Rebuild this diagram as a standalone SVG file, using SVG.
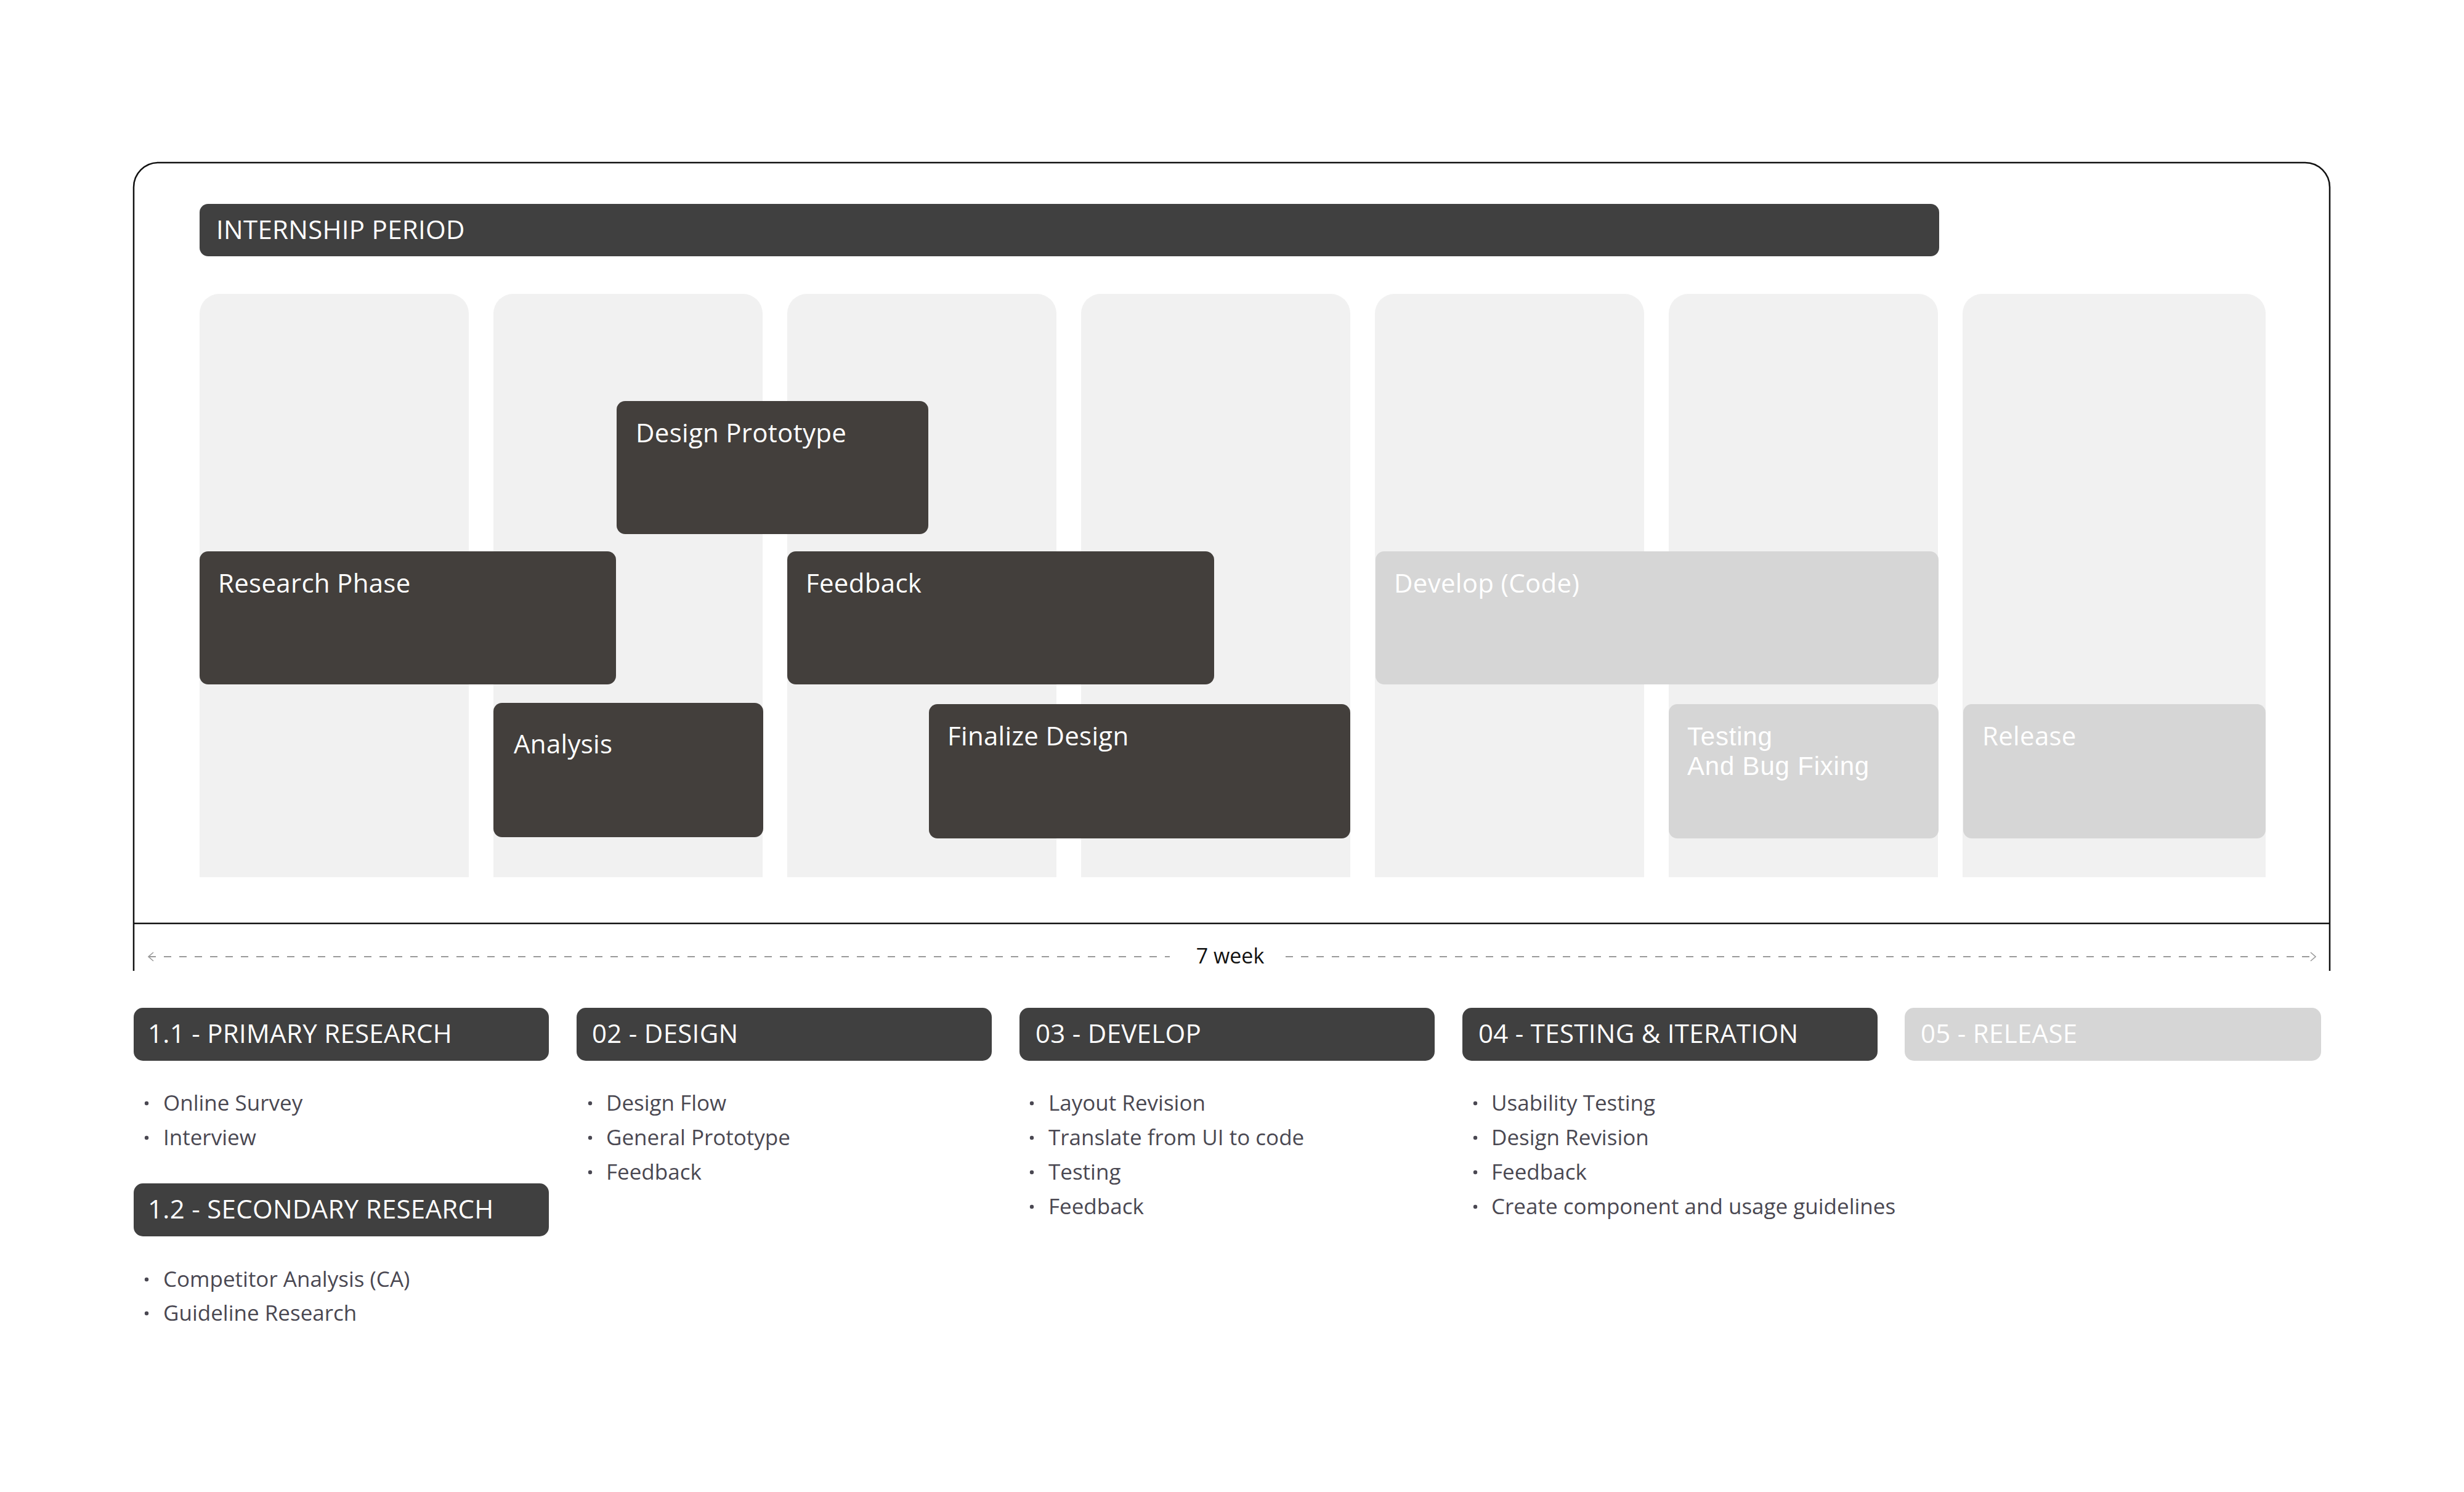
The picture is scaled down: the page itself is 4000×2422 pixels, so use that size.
<svg xmlns="http://www.w3.org/2000/svg" width="4000" height="2422" viewBox="0 0 4000 2422">
<style>
text{font-family:"Open Sans","Liberation Sans",sans-serif}
.col{fill:#F1F1F1}
.task{fill:#433F3C}
.task-l{fill:#D6D6D6}
.bar{fill:#404040}
.lbl{fill:#FFFFFF;font-size:42px;letter-spacing:0.3px}
.tight{font-family:"Liberation Sans","Open Sans",sans-serif;letter-spacing:0.8px}
.bul{fill:#4A4852;font-size:35px}
.dot{fill:#4A4852}
.frame{fill:none;stroke:#111;stroke-width:2.5}
.dim{fill:none;stroke:#9A9A9A;stroke-width:2;stroke-dasharray:12 13}
</style>
<defs>
<marker id="chevR" viewBox="0 0 10 16" refX="9" refY="8" markerWidth="10" markerHeight="16" markerUnits="userSpaceOnUse" orient="auto">
<path d="M1,1 L9,8 L1,15" fill="none" stroke="#9A9A9A" stroke-width="1.6"/>
</marker>
<marker id="chevL" viewBox="0 0 10 16" refX="1" refY="8" markerWidth="10" markerHeight="16" markerUnits="userSpaceOnUse" orient="auto">
<path d="M9,1 L1,8 L9,15" fill="none" stroke="#9A9A9A" stroke-width="1.6"/>
</marker>
</defs>
<rect width="4000" height="2422" fill="#FFFFFF"/>

<g id="frame">
<path class="frame" d="M217,1576 V304 A40,40 0 0 1 257,264 H3742 A40,40 0 0 1 3782,304 V1576"/>
<line class="frame" x1="217" y1="1499" x2="3782" y2="1499"/>
</g>

<g id="internship-period">
<rect class="bar" x="324" y="331" width="2824" height="85" rx="14"/>
<text class="lbl" x="351" y="388">INTERNSHIP PERIOD</text>
</g>

<g id="week-columns">
<path class="col" d="M324,1424 V509 A32,32 0 0 1 356,477 H729 A32,32 0 0 1 761,509 V1424 Z"/>
<path class="col" d="M801,1424 V509 A32,32 0 0 1 833,477 H1206 A32,32 0 0 1 1238,509 V1424 Z"/>
<path class="col" d="M1278,1424 V509 A32,32 0 0 1 1310,477 H1683 A32,32 0 0 1 1715,509 V1424 Z"/>
<path class="col" d="M1755,1424 V509 A32,32 0 0 1 1787,477 H2160 A32,32 0 0 1 2192,509 V1424 Z"/>
<path class="col" d="M2232,1424 V509 A32,32 0 0 1 2264,477 H2637 A32,32 0 0 1 2669,509 V1424 Z"/>
<path class="col" d="M2709,1424 V509 A32,32 0 0 1 2741,477 H3114 A32,32 0 0 1 3146,509 V1424 Z"/>
<path class="col" d="M3186,1424 V509 A32,32 0 0 1 3218,477 H3646 A32,32 0 0 1 3678,509 V1424 Z"/>
</g>

<g id="task-design-prototype">
<rect class="task" x="1001" y="651" width="506" height="216" rx="14"/>
<text class="lbl" x="1032" y="718">Design Prototype</text>
</g>
<g id="task-research-phase">
<rect class="task" x="324" y="895" width="676" height="216" rx="14"/>
<text class="lbl" x="354" y="962">Research Phase</text>
</g>
<g id="task-feedback">
<rect class="task" x="1278" y="895" width="693" height="216" rx="14"/>
<text class="lbl" x="1308" y="962">Feedback</text>
</g>
<g id="task-develop">
<rect class="task-l" x="2233" y="895" width="914" height="216" rx="14"/>
<text class="lbl" x="2263" y="962">Develop (Code)</text>
</g>
<g id="task-analysis">
<rect class="task" x="801" y="1141" width="438" height="218" rx="14"/>
<text class="lbl" x="834" y="1223">Analysis</text>
</g>
<g id="task-finalize-design">
<rect class="task" x="1508" y="1143" width="684" height="218" rx="14"/>
<text class="lbl" x="1538" y="1210">Finalize Design</text>
</g>
<g id="task-testing">
<rect class="task-l" x="2709" y="1143" width="438" height="218" rx="14"/>
<text class="lbl tight" x="2739" y="1210">Testing<tspan x="2739" dy="48">And Bug Fixing</tspan></text>
</g>
<g id="task-release">
<rect class="task-l" x="3187" y="1143" width="491" height="218" rx="14"/>
<text class="lbl" x="3218" y="1210">Release</text>
</g>

<g id="connectors">
<line class="dim" x1="241" y1="1553" x2="1899" y2="1553" marker-start="url(#chevL)"/>
<line class="dim" x1="2087" y1="1553" x2="3759" y2="1553" marker-end="url(#chevR)"/>
</g>
<g id="duration-label">
<text x="1997" y="1564" text-anchor="middle" font-size="34" fill="#111">7 week</text>
</g>

<g id="phase-primary-research">
<rect class="bar" x="217" y="1636" width="674" height="86" rx="15"/>
<text class="lbl" x="240" y="1693">1.1 - PRIMARY RESEARCH</text>
<circle class="dot" cx="238" cy="1791" r="3.2"/>
<text class="bul" x="265" y="1803">Online Survey</text>
<circle class="dot" cx="238" cy="1847" r="3.2"/>
<text class="bul" x="265" y="1859">Interview</text>
</g>
<g id="phase-secondary-research">
<rect class="bar" x="217" y="1921" width="674" height="86" rx="15"/>
<text class="lbl" x="240" y="1978">1.2 - SECONDARY RESEARCH</text>
<circle class="dot" cx="238" cy="2077" r="3.2"/>
<text class="bul" x="265" y="2089">Competitor Analysis (CA)</text>
<circle class="dot" cx="238" cy="2132" r="3.2"/>
<text class="bul" x="265" y="2144">Guideline Research</text>
</g>
<g id="phase-design">
<rect class="bar" x="936" y="1636" width="674" height="86" rx="15"/>
<text class="lbl" x="961" y="1693">02 - DESIGN</text>
<circle class="dot" cx="958" cy="1791" r="3.2"/>
<text class="bul" x="984" y="1803">Design Flow</text>
<circle class="dot" cx="958" cy="1847" r="3.2"/>
<text class="bul" x="984" y="1859">General Prototype</text>
<circle class="dot" cx="958" cy="1903" r="3.2"/>
<text class="bul" x="984" y="1915">Feedback</text>
</g>
<g id="phase-develop">
<rect class="bar" x="1655" y="1636" width="674" height="86" rx="15"/>
<text class="lbl" x="1681" y="1693">03 - DEVELOP</text>
<circle class="dot" cx="1675" cy="1791" r="3.2"/>
<text class="bul" x="1702" y="1803">Layout Revision</text>
<circle class="dot" cx="1675" cy="1847" r="3.2"/>
<text class="bul" x="1702" y="1859">Translate from UI to code</text>
<circle class="dot" cx="1675" cy="1903" r="3.2"/>
<text class="bul" x="1702" y="1915">Testing</text>
<circle class="dot" cx="1675" cy="1959" r="3.2"/>
<text class="bul" x="1702" y="1971">Feedback</text>
</g>
<g id="phase-testing">
<rect class="bar" x="2374" y="1636" width="674" height="86" rx="15"/>
<text class="lbl" x="2400" y="1693">04 - TESTING &amp; ITERATION</text>
<circle class="dot" cx="2395" cy="1791" r="3.2"/>
<text class="bul" x="2421" y="1803">Usability Testing</text>
<circle class="dot" cx="2395" cy="1847" r="3.2"/>
<text class="bul" x="2421" y="1859">Design Revision</text>
<circle class="dot" cx="2395" cy="1903" r="3.2"/>
<text class="bul" x="2421" y="1915">Feedback</text>
<circle class="dot" cx="2395" cy="1959" r="3.2"/>
<text class="bul" x="2421" y="1971">Create component and usage guidelines</text>
</g>
<g id="phase-release">
<rect class="task-l" x="3092" y="1636" width="676" height="86" rx="15"/>
<text class="lbl" x="3118" y="1693">05 - RELEASE</text>
</g>
</svg>
